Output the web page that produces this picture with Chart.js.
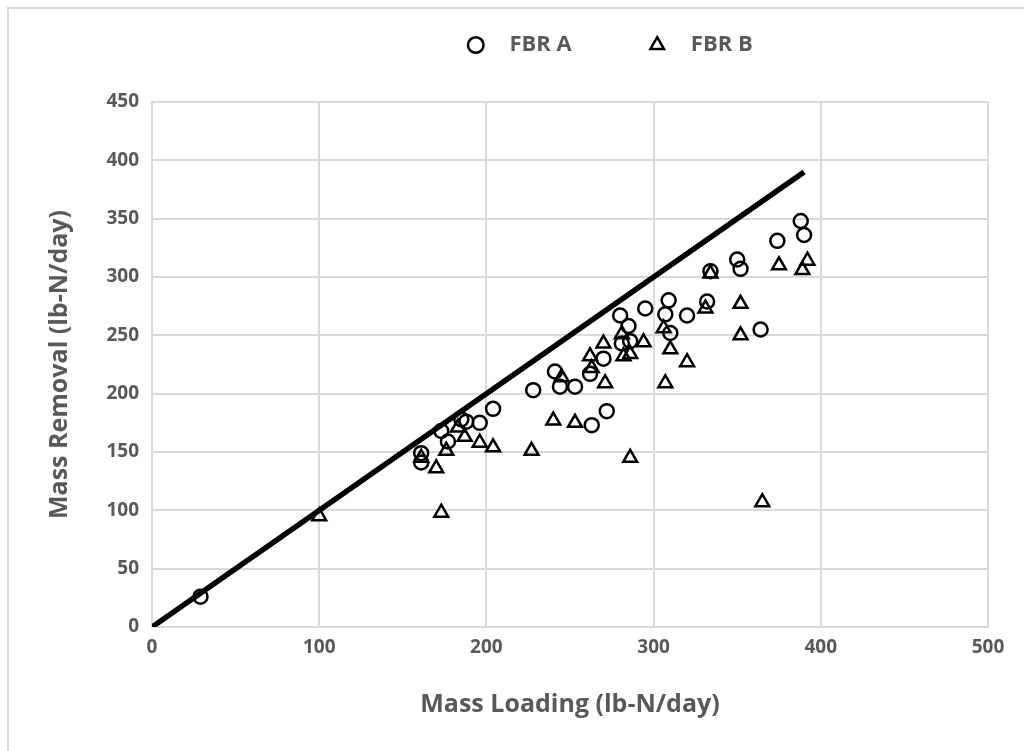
<!DOCTYPE html>
<html>
<head>
<meta charset="utf-8">
<script src="https://cdn.jsdelivr.net/npm/chart.js@4.4.0/dist/chart.umd.min.js"></script>
<style>
  body { margin: 0; background: #fff; }
  #frame { position: absolute; left: 7px; top: 7px; width: 1040px; height: 770px; border: 2px solid #d9d9d9; }
  #wrap { position: absolute; left: 0; top: 0; width: 1024px; height: 751px; }
</style>
</head>
<body>
<div id="frame"></div>
<div id="wrap"><canvas id="removal_chart" width="1024" height="751"></canvas></div>
<script>
// DATA (lb-N/day)
const fbrA_loading = [29, 161, 161, 173, 177, 185, 188, 196, 204, 228, 241, 244, 253, 262, 263, 270, 272,
  280, 281, 285, 286, 295, 307, 309, 310, 320, 332, 334, 350, 352, 364, 374, 388, 390];
const fbrA_removal = [26, 149, 141, 168, 159, 178, 176, 175, 187, 203, 219, 206, 206, 217, 173, 230, 185,
  267, 243, 258, 245, 273, 268, 280, 252, 267, 279, 305, 315, 307, 255, 331, 348, 336];

const fbrB_loading = [100, 161, 170, 173, 176, 183, 187, 196, 204, 227, 240, 245, 253, 262, 263, 270, 271,
  281, 282, 286, 286, 294, 306, 307, 310, 320, 331, 334, 352, 352, 365, 375, 389, 392];
const fbrB_removal = [95, 145, 136, 98, 151, 171, 163, 158, 154, 151, 177, 214, 175, 232, 222, 243, 209,
  251, 232, 234, 145, 244, 256, 209, 238, 227, 273, 303, 277, 250, 107, 310, 306, 314];

// 100% removal line
const line_x = [0, 390];
const line_y = [0, 390];

const x_ticks = [0, 100, 200, 300, 400, 500];
const y_ticks = [0, 50, 100, 150, 200, 250, 300, 350, 400, 450];

const toPoints = (xs, ys) => xs.map((x, i) => ({ x: x, y: ys[i] }));

const grey_text = "#595959";
const grid_grey = "#d9d9d9";
const font_family = "'Open Sans', 'Liberation Sans', sans-serif";

// legend sits above the plot, a bit right of centre
const legendSpot = {
  id: "legendSpot",
  beforeInit(chart) {
    const fit = chart.legend.fit;
    chart.legend.fit = function () {
      fit.call(this);
      this.height = 102;
    };
  },
  afterLayout(chart) {
    const lg = chart.legend;
    lg.left += 97; lg.right += 97;
    lg.top -= 46; lg.bottom -= 46;
  }
};

const ctx = document.getElementById("removal_chart").getContext("2d");

new Chart(ctx, {
  type: "scatter",
  data: {
    datasets: [
      {
        type: "line",
        label: "1:1",
        data: toPoints(line_x, line_y),
        borderColor: "#000",
        borderWidth: 5.5,
        pointRadius: 0,
        fill: false,
        order: 0,
      },
      {
        label: "FBR A",
        data: toPoints(fbrA_loading, fbrA_removal),
        pointStyle: "circle",
        pointRadius: 7,
        borderColor: "#000",
        backgroundColor: "rgba(255,255,255,0)",
        borderWidth: 2.5,
        order: 1,
      },
      {
        label: "FBR B",
        data: toPoints(fbrB_loading, fbrB_removal),
        pointStyle: "triangle",
        pointRadius: 8,
        borderColor: "#000",
        backgroundColor: "rgba(255,255,255,0)",
        borderWidth: 2.5,
        order: 1,
      },
    ],
  },
  options: {
    responsive: false,
    animation: false,
    devicePixelRatio: 1,
    layout: { padding: { left: 41, right: 36, top: 0, bottom: 27 } },
    plugins: {
      tooltip: { enabled: false },
      legend: {
        position: "top",
        labels: {
          usePointStyle: true,
          boxWidth: 11,
          boxHeight: 11,
          padding: 80,
          color: grey_text,
          font: { family: font_family, size: 22, weight: "bold" },
          generateLabels: (chart) =>
            Chart.defaults.plugins.legend.labels.generateLabels(chart)
              .filter((item) => item.datasetIndex !== 0)
              .map((item) => ({ ...item, text: "   " + item.text })),
        },
      },
    },
    scales: {
      x: {
        type: "linear",
        min: 0,
        max: 500,
        afterBuildTicks: (scale) => { scale.ticks = x_ticks.map((v) => ({ value: v })); },
        afterFit: (scale) => { scale.height = 97; },
        grid: { color: grid_grey, lineWidth: 2, drawTicks: false },
        border: { color: grid_grey, width: 2 },
        ticks: { padding: 9, color: grey_text, font: { family: font_family, size: 19, weight: "bold" } },
        title: {
          display: true,
          text: "Mass Loading (lb-N/day)",
          color: grey_text,
          padding: { top: 4, bottom: 4 },
          font: { family: font_family, size: 25, weight: "bold" },
        },
      },
      y: {
        type: "linear",
        min: 0,
        max: 450,
        afterBuildTicks: (scale) => { scale.ticks = y_ticks.map((v) => ({ value: v })); },
        afterFit: (scale) => { scale.width = 111; },
        grid: { color: grid_grey, lineWidth: 2, drawTicks: false },
        border: { color: grid_grey, width: 2 },
        ticks: { padding: 13, color: grey_text, font: { family: font_family, size: 19, weight: "bold" } },
        title: {
          display: true,
          text: "Mass Removal (lb-N/day)",
          color: grey_text,
          padding: { top: 4, bottom: 4 },
          font: { family: font_family, size: 25, weight: "bold" },
        },
      },
    },
  },
  plugins: [legendSpot],
});
</script>
</body>
</html>
